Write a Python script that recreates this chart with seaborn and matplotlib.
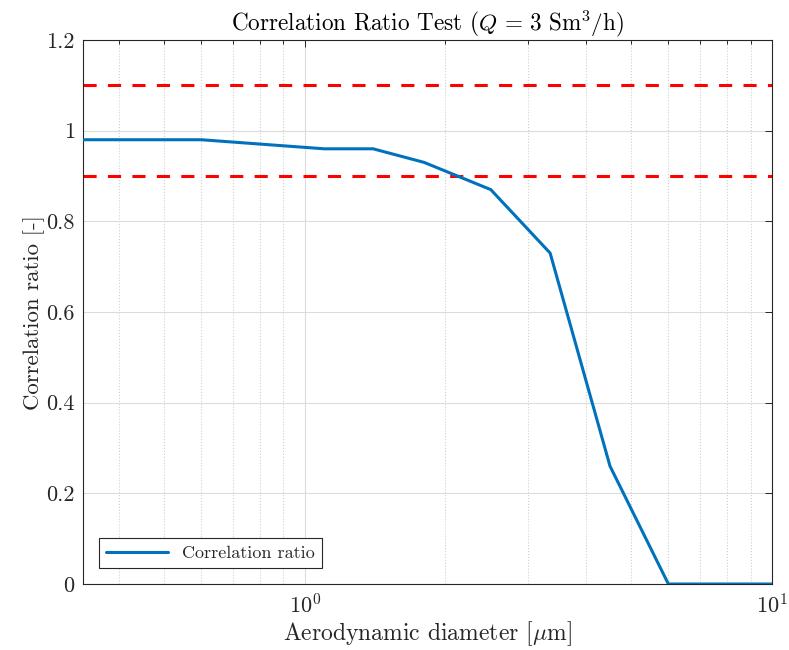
import matplotlib
matplotlib.use("Agg")
import matplotlib.pyplot as plt
import seaborn as sns
import pandas as pd
import numpy as np
from matplotlib.ticker import LogLocator, NullFormatter, MultipleLocator

# Data
diameter_um = [0.335, 0.6, 1.1, 1.4, 1.8, 2.5, 3.35, 4.5, 6.0, 10.0]
corr_ratio = [0.98, 0.98, 0.96, 0.96, 0.93, 0.87, 0.73, 0.26, 0.0, 0.0]
limits = [0.9, 1.1]

sns.set_theme(style="white")
plt.rcParams.update({
    "font.family": "serif",
    "font.serif": ["cmr10", "DejaVu Serif"],
    "mathtext.fontset": "cm",
    "axes.formatter.use_mathtext": True,
    "axes.unicode_minus": False,
})

df = pd.DataFrame({"d": diameter_um, "r": corr_ratio})

fig = plt.figure(figsize=(7.89, 6.5), dpi=100)
ax = fig.add_axes([83/789, 1 - 584/650, (772-83)/789, (584-40)/650])
ax.set_xscale("log")

blue = (0.0, 0.447, 0.741)
sns.lineplot(data=df, x="d", y="r", ax=ax, color=blue, linewidth=2.2,
             label="Correlation ratio", zorder=3)
for lv in limits:
    ax.axhline(lv, color="red", linewidth=2.2, linestyle=(0, (4.3, 3.7)),
               label="_nolegend_", zorder=2)

ax.set_xlim(diameter_um[0], 10)
ax.set_ylim(0, 1.2)
ax.yaxis.set_major_locator(MultipleLocator(0.2))
ax.xaxis.set_major_locator(LogLocator(base=10, numticks=10))
ax.xaxis.set_minor_locator(LogLocator(base=10, subs=np.arange(2, 10), numticks=20))
ax.xaxis.set_minor_formatter(NullFormatter())

def yfmt(v, pos):
    s = f"{v:.1f}".rstrip("0").rstrip(".")
    return s
ax.yaxis.set_major_formatter(matplotlib.ticker.FuncFormatter(yfmt))

ax.grid(True, which="major", color="#dcdcdc", linewidth=0.8, linestyle="-")
ax.grid(True, which="minor", axis="x", color="#d0d0d0", linewidth=0.8, linestyle=":")
ax.set_axisbelow(True)

for sp in ax.spines.values():
    sp.set_visible(True)
    sp.set_color("#262626")
    sp.set_linewidth(0.8)

ax.tick_params(which="both", direction="in", top=True, right=True,
               colors="#262626", labelsize=16, width=0.7)
ax.tick_params(which="major", length=5)
ax.tick_params(which="minor", length=3)
ax.tick_params(axis="x", pad=7)
ax.tick_params(axis="y", pad=6)

ax.set_xlabel(r"Aerodynamic diameter [$\mu$m]", fontsize=17, color="#262626", labelpad=1)
ax.set_ylabel("Correlation ratio [-]", fontsize=16.5, color="#262626", labelpad=1)
ax.set_title(r"Correlation Ratio Test ($Q \,=\, 3\ \mathrm{Sm}^3/\mathrm{h}$)",
             fontsize=16.7, color="black", pad=7)

leg = ax.legend(loc="lower left", fontsize=13, frameon=True, fancybox=False,
                edgecolor="#262626", framealpha=1, borderaxespad=0.88,
                handlelength=3.4, borderpad=0.4)
leg.get_frame().set_linewidth(0.8)

fig.savefig("out.png", dpi=100)
